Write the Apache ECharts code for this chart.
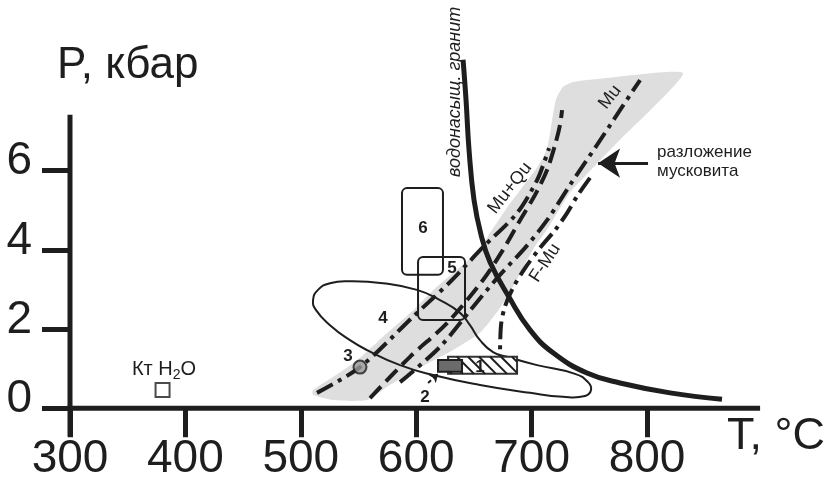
<!DOCTYPE html>
<html><head><meta charset="utf-8">
<script src="https://cdn.jsdelivr.net/npm/echarts@6/dist/echarts.min.js"></script>
<style>html,body{margin:0;padding:0;background:#fff}#c{width:839px;height:480px}</style>
</head><body><div id="c"></div>
<script>
const xTicks = [300, 400, 500, 600, 700, 800];
const yTicks = [0, 2, 4, 6];

const bandOutline = [[510.6,0.46],[528,0.79],[549,1.22],[571,1.80],[595,2.41],[615,2.99],[635,3.49],[655,4.00],[664,4.43],[679,5.08],[705,6.09],[713,6.52],[716,6.95],[721,7.79],[727,8.11],[736,8.24],[765,8.34],[831,8.47],[803,7.53],[779,6.85],[757,6.19],[733,5.44],[713,4.50],[701,4.00],[687,3.24],[679,2.81],[667,2.31],[655,1.90],[632,1.47],[603,1.02],[577,0.59],[557,0.21],[528,0.21],[510.6,0.34]];

const meltCurve = [[640.6,8.80],[643.2,7.78],[645.8,6.52],[650.1,5.26],[656.2,4.38],[664,3.69],[680.4,2.81],[698.6,1.98],[718.6,1.40],[748,0.89],[776.6,0.64],[820,0.39],[865,0.23]];

const lineMuQu = [[514,0.39],[551.3,1.04],[597.2,2.31],[629.3,3.19],[657.9,4.07],[687.4,4.93],[704.7,5.76],[711.6,6.27],[715.1,6.57]];
const lineDash = [[560,0.26],[594.6,1.30],[626.7,2.15],[657.9,3.24],[675.2,4.00],[690,4.75],[703,5.39],[713.4,6.02],[720.3,6.65],[724.6,7.15],[726.4,7.53]];
const lineMu = [[586,0.66],[620.6,1.55],[649.2,2.56],[672.6,3.37],[694.3,4.05],[713.4,4.75],[733.3,5.64],[756.7,6.65],[776.6,7.53],[794,8.29]];
const lineFMu = [[750.6,5.82],[740.2,5.39],[730.7,4.93],[720.3,4.50],[707.3,4.05],[694.3,3.54],[683.9,3.04],[677,2.58],[673.5,2.10],[672.6,1.30]];

const field4 = [[510.6,2.73],[514.9,2.99],[525.3,3.16],[542.6,3.21],[571.2,3.16],[600.7,2.99],[620.6,2.73],[638,2.41],[646.6,2.10],[655.3,1.72],[666.6,1.42],[678.7,1.30],[704.7,1.09],[737.6,0.87],[748.9,0.66],[751.5,0.46],[746.3,0.31],[727.2,0.29],[698.6,0.39],[655.3,0.59],[614.6,0.84],[586,1.09],[557.4,1.47],[542.6,1.72],[525.3,2.10],[513.2,2.48]];

const box6 = [[587.7,3.37],[623.2,5.56]];
const box5 = [[601.6,2.23],[642.3,3.82]];
const box1 = [[627.6,0.87],[687.4,1.30]];
const box2 = [[618.9,0.92],[639.7,1.22]];
const point3 = [[551.3,1.04]];
const pointKt = [[380.2,0.46]];
const arrowMusc = [[800.9,6.19],[757.6,6.19]];
const arrow2 = [[610.3,0.64],[619,0.87]];
const xAxisLine = [[275.7,0],[898,0]];
const yAxisLine = [[300,-0.72],[300,7.41]];

const FONT = '"Liberation Sans", Arial, sans-serif';
const INK = '#1e1e1e';

const notes = [
  { at: [605.9, 4.55], text: '6', font: 'bold 17px ' + FONT },
  { at: [631, 3.54], text: '5', font: 'bold 17px ' + FONT },
  { at: [571.2, 2.28], text: '4', font: 'bold 17px ' + FONT },
  { at: [540.9, 1.32], text: '3', font: 'bold 17px ' + FONT },
  { at: [607.6, 0.29], text: '2', font: 'bold 17px ' + FONT },
  { at: [655.3, 1.04], text: '1', font: 'bold 17px ' + FONT },
  { at: [681.3, 5.56], text: 'Mu+Qu', font: '18px ' + FONT, rot: 52 },
  { at: [768, 7.86], text: 'Mu', font: '18px ' + FONT, rot: 52 },
  { at: [711.6, 3.67], text: 'F-Mu', font: '18px ' + FONT, rot: 57 },
  { at: [633.6, 7.99], text: 'водонасыщ. гранит', font: 'italic 18px ' + FONT, rot: 90 },
  { at: [381.5, 0.97], text: 'Кт H{s|2}O', font: '20px ' + FONT, rich: { s: { fontSize: 14, fontFamily: FONT, fill: INK, verticalAlign: 'bottom', padding: [10, 0, 0, 0] } } },
  { at: [808.7, 6.22], text: 'разложение\nмусковита', font: '17px ' + FONT, align: 'left', lineHeight: 19 }
];

function polygonItem(pts, style, smooth) {
  return function (params, api) {
    return { type: 'polygon', shape: { points: pts.map(p => api.coord(p)), smooth: smooth || 0 }, style: style };
  };
}
function rectOf(box, api) {
  const a = api.coord(box[0]), b = api.coord(box[1]);
  return { x: Math.min(a[0], b[0]), y: Math.min(a[1], b[1]), w: Math.abs(b[0] - a[0]), h: Math.abs(b[1] - a[1]) };
}
function roundBox(box) {
  return function (params, api) {
    const r = rectOf(box, api);
    return { type: 'rect', shape: { x: r.x, y: r.y, width: r.w, height: r.h, r: 5 }, style: { fill: 'none', stroke: INK, lineWidth: 2 } };
  };
}
function hatchBox(params, api) {
  const r = rectOf(box1, api);
  const x0 = r.x, x1 = r.x + r.w, y0 = r.y, y1 = r.y + r.h, h = r.h;
  const children = [{ type: 'rect', shape: { x: x0, y: y0, width: r.w, height: h }, style: { fill: '#fff', stroke: '#333', lineWidth: 2 } }];
  for (let k = x0 - h + 4; k < x1; k += 11) {
    let sx = k, sy = y0, ex = k + h, ey = y1;
    if (sx < x0) { sy += (x0 - sx); sx = x0; }
    if (ex > x1) { ey -= (ex - x1); ex = x1; }
    if (ex > sx) children.push({ type: 'line', shape: { x1: sx, y1: sy, x2: ex, y2: ey }, style: { stroke: INK, lineWidth: 2 } });
  }
  const q = rectOf(box2, api);
  children.push({ type: 'rect', shape: { x: q.x, y: q.y, width: q.w, height: q.h }, style: { fill: '#6b6b6b', stroke: INK, lineWidth: 2 } });
  return { type: 'group', children: children };
}
function noteItem(params, api) {
  const n = notes[params.dataIndex];
  const p = api.coord(n.at);
  const style = { text: n.text, font: n.font, fill: INK, align: n.align || 'center', verticalAlign: 'middle' };
  if (n.rich) style.rich = n.rich;
  if (n.lineHeight) style.lineHeight = n.lineHeight;
  return { type: 'text', x: p[0], y: p[1], rotation: (n.rot || 0) * Math.PI / 180, style: style };
}
function lineSeries(data, width, dash, z, smooth) {
  return { type: 'line', data: data, smooth: smooth == null ? 0.3 : smooth, symbol: 'none', clip: false, silent: true, z: z || 3,
    lineStyle: { color: INK, width: width, type: dash || 'solid', cap: 'butt' } };
}

const chart = echarts.init(document.getElementById('c'), null, { renderer: 'canvas' });
chart.setOption({
  backgroundColor: '#fff',
  animation: false,
  grid: { left: 70, right: 76.6, top: 12.3, bottom: 71.7, containLabel: false, outerBoundsMode: 'none' },
  xAxis: {
    type: 'value', min: 300, max: 900, interval: 100,
    axisLine: { show: false }, splitLine: { show: false },
    axisTick: { show: true, length: 29, customValues: xTicks, lineStyle: { color: INK, width: 5 } },
    axisLabel: { show: true, customValues: xTicks, fontSize: 46, fontFamily: FONT, color: INK, margin: 28 }
  },
  yAxis: {
    type: 'value', min: 0, max: 10, interval: 2,
    axisLine: { show: false }, splitLine: { show: false },
    axisTick: { show: true, length: 28, customValues: yTicks, lineStyle: { color: INK, width: 5 } },
    axisLabel: { show: true, customValues: yTicks, fontSize: 46, fontFamily: FONT, color: INK, margin: 38, verticalAlign: 'bottom', lineHeight: 18 }
  },
  graphic: [
    { type: 'text', x: 57, y: 66, style: { text: 'P, кбар', font: '44px ' + FONT, fill: INK, verticalAlign: 'middle', textVerticalAlign: 'middle' } },
    { type: 'text', x: 727, y: 437, style: { text: 'T, °C', font: '45px ' + FONT, fill: INK, verticalAlign: 'middle', textVerticalAlign: 'middle' } }
  ],
  series: [
    { type: 'custom', renderItem: polygonItem(bandOutline, { fill: '#dedede', stroke: 'none' }, 0.2), data: [[0, 0]], clip: false, silent: true, z: 1 },
    { type: 'custom', renderItem: polygonItem(field4, { fill: 'none', stroke: INK, lineWidth: 2 }, 0.5), data: [[0, 0]], clip: false, silent: true, z: 2 },
    { type: 'custom', renderItem: roundBox(box6), data: [[0, 0]], clip: false, silent: true, z: 2 },
    { type: 'custom', renderItem: roundBox(box5), data: [[0, 0]], clip: false, silent: true, z: 2 },
    lineSeries(lineMuQu, 4, [18, 6, 4, 6]),
    lineSeries(lineDash, 4, [16, 7]),
    lineSeries(lineMu, 4, [18, 6, 4, 6]),
    lineSeries(lineFMu, 4, [18, 6, 4, 6]),
    lineSeries(meltCurve, 5, 'solid', 4, 0.45),
    { type: 'custom', renderItem: hatchBox, data: [[0, 0]], clip: false, silent: true, z: 5 },
    lineSeries(xAxisLine, 5, 'solid', 6, 0),
    lineSeries(yAxisLine, 5, 'solid', 6, 0),
    { type: 'scatter', data: point3, symbolSize: 13, clip: false, silent: true, z: 6, itemStyle: { color: '#9a9a9a', borderColor: INK, borderWidth: 2 } },
    { type: 'scatter', data: pointKt, symbol: 'rect', symbolSize: 14, clip: false, silent: true, z: 6, itemStyle: { color: '#fff', borderColor: INK, borderWidth: 2 } },
    { type: 'lines', coordinateSystem: 'cartesian2d', silent: true, z: 6, symbol: ['none', 'arrow'], symbolSize: [12, 22],
      lineStyle: { color: INK, width: 3, opacity: 1 }, data: [{ coords: arrowMusc }] },
    { type: 'lines', coordinateSystem: 'cartesian2d', silent: true, z: 6, symbol: ['none', 'arrow'], symbolSize: 8,
      lineStyle: { color: INK, width: 2, type: [4, 3], opacity: 1 }, data: [{ coords: arrow2 }] },
    { type: 'custom', renderItem: noteItem, data: notes.map(n => n.at), clip: false, silent: true, z: 7 }
  ]
});
</script>
</body></html>
